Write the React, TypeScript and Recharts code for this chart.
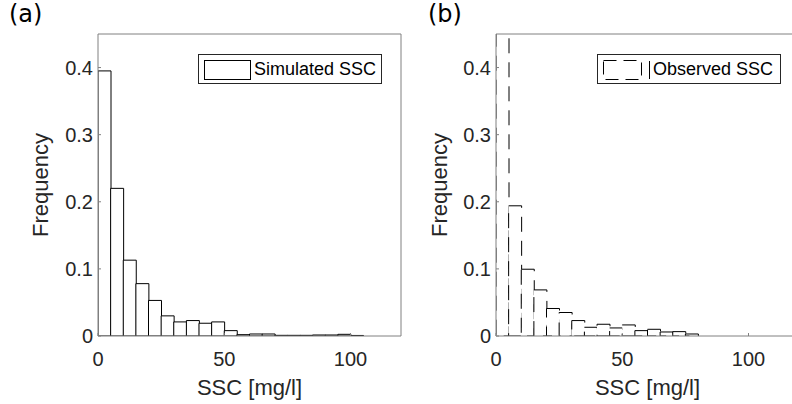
import React from 'react';
import { BarChart, Bar, XAxis, YAxis, Legend } from 'recharts';

// bin centres, 5 mg/l wide bins
const simBins = [2.5, 7.5, 12.5, 17.5, 22.5, 27.5, 32.5, 37.5, 42.5, 47.5, 52.5, 57.5, 62.5, 67.5, 72.5, 77.5, 82.5, 87.5, 92.5, 97.5, 102.5];
const simFreq = [0.395, 0.22, 0.113, 0.078, 0.053, 0.03, 0.021, 0.023, 0.019, 0.021, 0.008, 0.002, 0.003, 0.003, 0.001, 0.001, 0.001, 0.0015, 0.0015, 0.0025, 0.0008];

const obsBins = [2.5, 7.5, 12.5, 17.5, 22.5, 27.5, 32.5, 37.5, 42.5, 47.5, 52.5, 57.5, 62.5, 67.5, 72.5, 77.5];
const obsFreq = [0.46, 0.194, 0.0995, 0.0687, 0.041, 0.035, 0.023, 0.013, 0.0175, 0.012, 0.0165, 0.008, 0.01, 0.006, 0.0065, 0.003];

const xTicks = [0, 50, 100];
const yTicks = [0, 0.1, 0.2, 0.3, 0.4];

const FONT = '"Liberation Sans", Arial, Helvetica, sans-serif';
const AXIS = '#808080';
const TEXT = '#262626';

const simData = simBins.map((bin, i) => ({ bin, freq: simFreq[i] }));
const obsData = obsBins.map((bin, i) => ({ bin, freq: obsFreq[i] }));

const LegendBox = ({ text, dashed }: { text: string; dashed: boolean }) => (
    <div
        style={{
            width: 184,
            height: 30,
            boxSizing: 'border-box',
            border: '1px solid #262626',
            background: '#fff',
            position: 'relative',
            fontFamily: FONT,
            fontSize: 18,
            color: '#000',
        }}
    >
        <svg width={60} height={28} style={{ position: 'absolute', left: 0, top: 0 }}>
            <rect
                x={5.5}
                y={5.5}
                width={dashed ? 38 : 46}
                height={19}
                fill="#fff"
                stroke="#000"
                strokeWidth={1}
                strokeDasharray={dashed ? '13 7' : undefined}
            />
            {dashed && <line x1={51.5} y1={6} x2={51.5} y2={24} stroke="#000" strokeWidth={1} />}
        </svg>
        <span style={{ position: 'absolute', left: 55, top: 4, whiteSpace: 'nowrap' }}>{text}</span>
    </div>
);

interface PanelProps {
    data: { bin: number; freq: number }[];
    width: number;
    marginRight: number;
    yAxisWidth: number;
    legendText: string;
    dashed: boolean;
}

const Panel = ({ data, width, marginRight, yAxisWidth, legendText, dashed }: PanelProps) => (
    <BarChart
        width={width}
        height={404}
        data={data}
        margin={{ top: 30, right: marginRight, left: 0, bottom: 0 }}
        barCategoryGap={0}
        barGap={0}
    >
        <XAxis
            dataKey="bin"
            type="number"
            domain={[0, 120]}
            ticks={xTicks}
            allowDataOverflow
            height={68}
            tickSize={-3}
            tickMargin={19}
            stroke={AXIS}
            tick={{ fill: TEXT, fontSize: 20, fontFamily: FONT }}
            label={{ value: 'SSC [mg/l]', position: 'insideBottom', offset: 9, style: { fill: TEXT, fontSize: 22, fontFamily: FONT } }}
        />
        <XAxis
            xAxisId="top"
            orientation="top"
            type="number"
            domain={[0, 120]}
            ticks={xTicks}
            height={4}
            tickSize={-3}
            tick={false}
            stroke={AXIS}
        />
        <YAxis
            domain={[0, 0.45]}
            ticks={yTicks}
            allowDataOverflow
            width={yAxisWidth}
            tickSize={-3}
            tickMargin={8}
            stroke={AXIS}
            tick={{ fill: TEXT, fontSize: 20, fontFamily: FONT }}
            label={{
                value: 'Frequency',
                angle: -90,
                position: 'insideLeft',
                offset: 39,
                style: { textAnchor: 'middle', fill: TEXT, fontSize: 22, fontFamily: FONT },
            }}
        />
        <YAxis
            yAxisId="right"
            orientation="right"
            domain={[0, 0.45]}
            ticks={yTicks}
            width={4}
            tickSize={-3}
            tick={false}
            stroke={AXIS}
        />
        <Legend
            layout="vertical"
            align="center"
            verticalAlign="middle"
            wrapperStyle={{ left: 197, top: 54, width: 184 }}
            content={() => <LegendBox text={legendText} dashed={dashed} />}
        />
        <Bar
            dataKey="freq"
            fill="#fff"
            stroke="#000"
            strokeWidth={1}
            strokeDasharray={dashed ? '15 9' : undefined}
            isAnimationActive={false}
        />
    </BarChart>
);

const PanelLetter = ({ text, left }: { text: string; left: number }) => (
    <div style={{ position: 'absolute', left, top: 0, fontFamily: '"DejaVu Sans", Verdana, sans-serif', fontSize: 24, color: '#000' }}>
        {text}
    </div>
);

export default function App() {
    return (
        <div style={{ position: 'absolute', left: 0, top: 0, width: 792, height: 404, overflow: 'hidden', background: '#fff' }}>
            <div style={{ position: 'absolute', left: 1, top: 0 }}>
                <Panel data={simData} width={404} marginRight={0} yAxisWidth={97} legendText="Simulated SSC" dashed={false} />
            </div>
            <div style={{ position: 'absolute', left: 400, top: 0 }}>
                <Panel data={obsData} width={420} marginRight={17} yAxisWidth={96} legendText="Observed SSC" dashed={true} />
            </div>
            <PanelLetter text="(a)" left={9} />
            <PanelLetter text="(b)" left={428} />
        </div>
    );
}
